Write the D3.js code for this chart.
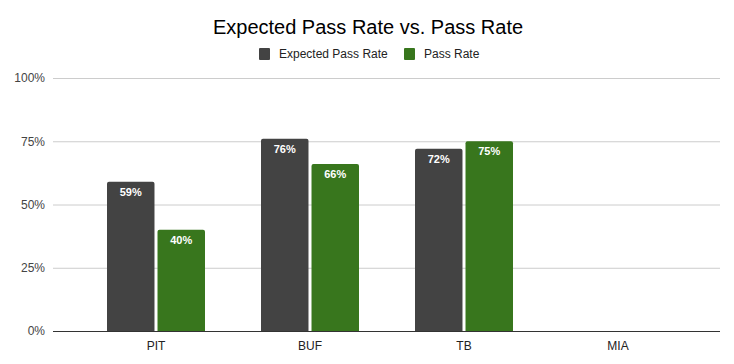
<!DOCTYPE html>
<html><head><meta charset="utf-8">
<script src="https://cdn.jsdelivr.net/npm/d3@7"></script>
<style>body{margin:0;background:#fff}svg{display:block;font-family:"Liberation Sans",Arial,sans-serif}</style>
</head><body><svg id="c" width="734" height="364"></svg>
<script>
const categories = ["PIT", "BUF", "TB", "MIA"];
const seriesNames = ["Expected Pass Rate", "Pass Rate"];
const expectedPassRate = [0.59, 0.76, 0.72, null];
const passRate = [0.40, 0.66, 0.75, null];
const yTicks = [0, 0.25, 0.5, 0.75, 1];
const colors = ["#434343", "#38761d"];

const svg = d3.select("#c");
const plotL = 53, plotR = 720, plotTop = 78, plotBottom = 331;
const y = d3.scaleLinear().domain([0, 1]).range([plotBottom, plotTop]);
const x0 = d3.scaleBand().domain(categories).range([79, 695]);
const x1 = d3.scaleBand().domain(seriesNames).range([28, 126]).paddingInner(0.06);

// title
svg.append("text").attr("x", 368).attr("y", 34).attr("text-anchor", "middle")
  .attr("font-size", 20).attr("fill", "#000").text("Expected Pass Rate vs. Pass Rate");

// legend
const leg = [{x: 259, tx: 279}, {x: 404, tx: 424}];
seriesNames.forEach((s, i) => {
  svg.append("rect").attr("x", leg[i].x).attr("y", 48).attr("width", 11).attr("height", 12)
    .attr("rx", 1).attr("fill", colors[i]);
  svg.append("text").attr("x", leg[i].tx).attr("y", 58).attr("font-size", 12).attr("fill", "#222").text(s);
});

// grid
const yAxis = d3.axisLeft(y).tickValues(yTicks).tickFormat(d3.format(".0%")).tickSize(plotL - plotR);
const gy = svg.append("g").attr("transform", `translate(${plotL},0)`).call(yAxis);
gy.select(".domain").remove();
gy.selectAll(".tick line").attr("stroke", "#cccccc").attr("stroke-width", 1);
gy.selectAll(".tick text").attr("x", -8).attr("font-size", 12).attr("fill", "#444")
  .attr("font-family", '"Liberation Sans",Arial,sans-serif');

// bars
const data = categories.map((c, i) => ({cat: c, vals: [expectedPassRate[i], passRate[i]]}));
const groups = svg.append("g").selectAll("g").data(data).join("g")
  .attr("transform", d => `translate(${x0(d.cat)},0)`);
const items = groups.selectAll("g").data(d => d.vals.map((v, j) => ({v, s: seriesNames[j], j})).filter(e => e.v != null))
  .join("g");
items.append("path").attr("fill", d => colors[d.j]).attr("d", d => {
  const xl = x1(d.s), w = x1.bandwidth(), yt = y(d.v), r = 2;
  return `M${xl},${plotBottom}V${yt + r}Q${xl},${yt} ${xl + r},${yt}H${xl + w - r}Q${xl + w},${yt} ${xl + w},${yt + r}V${plotBottom}Z`;
});
items.append("text").attr("x", d => x1(d.s) + x1.bandwidth() / 2).attr("y", d => y(d.v) + 14)
  .attr("text-anchor", "middle").attr("font-size", 11).attr("font-weight", "bold").attr("fill", "#fff")
  .text(d => d3.format(".0%")(d.v));

// x axis
const xAxis = d3.axisBottom(x0).tickSize(0).tickPadding(10);
const gx = svg.append("g").attr("transform", `translate(0,${plotBottom})`).call(xAxis);
gx.select(".domain").remove();
gx.selectAll(".tick text").attr("font-size", 12).attr("fill", "#222")
  .attr("font-family", '"Liberation Sans",Arial,sans-serif');
svg.append("line").attr("x1", plotL).attr("x2", plotR).attr("y1", plotBottom + 0.5).attr("y2", plotBottom + 0.5)
  .attr("stroke", "#333").attr("stroke-width", 1);
</script></body></html>
